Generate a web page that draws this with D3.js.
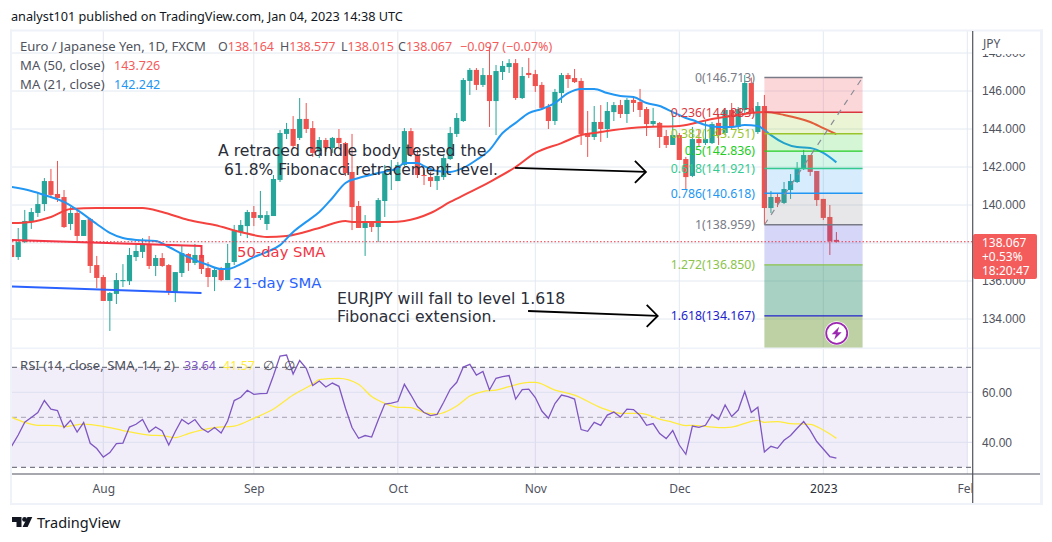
<!DOCTYPE html>
<html>
  <head>
    <meta charset="UTF-8" />
    <style>
      body {
        margin: 0;
        background: #fff;
      }
      svg {
        display: block;
      }
      text {
        font-family: "Noto Sans";
      }
      .axis text {
        font-family: "Liberation Sans";
      }
      .note {
        font-family: "DejaVu Sans";
      }
      .axis .domain,
      .axis line {
        display: none;
      }
    </style>
  </head>
  <body>
    <svg></svg>
    <script src="https://d3js.org/d3.v7.min.js"></script>
    <script>
      let width = 1052,
        height = 542;

      // Daily candles, one entry per session
      const opens = [137.90,137.26,138.05,139.11,139.58,140.05,141.26,140.58,140.42,139.00,139.58,138.37,139.26,136.84,136.21,134.95,135.32,135.99,135.99,137.26,137.53,137.95,136.79,137.21,136.84,135.37,136.42,137.42,136.95,137.37,136.68,136.21,136.63,136.05,137.00,138.58,138.89,139.63,139.32,139.00,139.42,141.32,143.74,144.00,143.53,144.53,144.05,142.84,143.42,143.00,143.53,143.26,141.74,139.95,138.79,139.11,138.84,140.21,141.79,141.26,142.11,143.89,142.63,141.58,141.47,141.26,141.47,142.42,143.74,144.42,146.53,147.11,146.32,146.84,145.47,147.00,147.26,147.47,145.63,146.95,146.89,146.32,145.16,144.42,145.89,146.84,146.68,146.53,143.79,143.58,144.37,144.00,144.89,145.26,144.79,145.53,145.42,145.05,144.26,144.32,143.63,143.16,143.68,142.42,141.53,143.47,143.26,143.26,144.32,143.79,145.00,144.11,145.00,146.42,143.84,145.21,139.84,140.42,140.11,140.79,141.21,141.89,142.63,141.79,140.32,139.37,138.164];
      const highs = [137.90,138.79,139.74,139.84,140.63,141.42,141.90,142.32,140.79,139.89,139.84,139.21,139.32,137.32,136.32,135.42,136.42,136.89,137.74,137.95,138.26,138.37,137.37,137.47,136.89,136.47,137.84,137.47,137.95,137.84,137.00,136.68,136.74,137.95,138.95,139.21,139.74,139.95,140.74,139.68,141.58,143.95,144.32,144.68,145.63,145.37,144.42,143.58,143.53,143.58,144.00,143.32,143.74,140.21,139.47,139.11,140.37,142.11,142.37,142.26,144.05,144.05,142.90,141.84,141.74,141.74,142.63,144.11,144.84,146.68,147.21,147.21,147.21,148.32,147.37,147.58,147.68,147.68,147.26,147.74,147.11,146.47,145.32,146.11,146.95,146.95,147.16,146.68,144.95,145.21,145.26,145.42,145.42,145.53,145.63,145.68,146.11,145.16,145.11,144.37,143.95,144.84,143.79,142.53,144.11,143.95,144.47,144.37,144.74,145.11,145.37,145.16,146.84,146.71,145.42,145.79,140.74,140.58,141.21,141.63,142.26,142.90,142.63,141.79,140.32,140.00,138.577];
      const lows = [137.26,137.11,138.00,138.74,139.37,139.68,140.37,140.16,138.79,138.68,138.10,138.37,136.42,135.63,134.95,133.37,134.79,135.68,135.79,137.05,137.21,136.63,136.26,136.74,135.26,134.89,136.21,136.53,136.84,136.37,135.68,135.47,135.99,136.05,136.84,138.37,138.26,138.89,139.21,138.68,139.42,141.21,143.47,143.00,143.42,143.79,142.53,142.47,142.79,142.74,143.00,141.53,138.68,138.79,137.32,138.58,138.05,139.37,140.79,141.26,142.05,142.53,141.42,141.05,140.95,140.79,141.32,142.37,143.58,144.37,145.79,146.05,146.21,144.11,143.68,146.58,146.95,145.53,145.58,146.68,145.95,145.05,144.00,144.21,145.37,146.16,146.42,143.16,142.53,143.42,143.32,143.53,144.42,144.58,144.32,144.90,144.63,143.63,144.11,143.00,143.00,143.16,142.37,140.79,141.47,143.05,143.16,143.21,143.16,143.68,144.00,144.00,144.84,144.84,143.74,138.96,139.58,139.89,140.05,140.32,141.16,141.84,141.53,139.95,139.21,137.37,138.015];
      const closes = [137.26,138.05,139.16,139.63,140.05,141.26,140.53,140.37,138.84,139.58,138.37,139.21,136.79,136.16,134.95,135.37,136.05,136.05,137.37,137.58,137.95,136.79,137.21,136.79,135.42,136.47,137.47,136.95,137.37,136.63,136.21,136.58,136.05,136.95,138.63,138.95,139.63,139.32,139.47,139.47,141.37,143.79,144.00,143.11,144.53,144.00,142.74,143.42,143.00,143.53,143.26,141.68,139.89,138.79,139.05,138.84,140.26,141.68,141.84,142.11,143.89,142.63,141.58,141.53,141.26,141.53,142.47,143.79,144.58,146.58,147.11,146.32,146.84,145.47,147.05,147.32,147.47,145.63,146.79,146.84,146.26,145.11,144.42,145.95,146.84,146.63,146.47,143.74,143.58,144.37,144.00,144.95,145.26,144.79,145.53,145.37,145.00,144.26,144.42,143.58,143.16,143.68,142.37,141.47,143.47,143.26,143.47,144.26,143.68,145.00,144.11,145.05,146.42,144.89,145.21,139.84,140.42,140.11,140.84,141.26,141.95,142.63,141.74,140.26,139.32,138.10,138.067];

      // Moving averages, read at the candle numbers listed beside them
      const ma21Index = [0,3,5,8,10,13,15,17,19,22,24,27,30,32,33,35,37,39,41,43,45,47,49,51,53,56,59,60,62,63,65,67,69,71,73,75,77,79,81,83,85,87,89,91,93,95,97,99,101,103,104,106,108,110,112,114,115,116,118,120,122,124,126];
      const ma21 = [140.95,140.74,140.53,140.16,139.74,139.00,138.53,138.26,138.16,138.11,137.79,137.26,136.84,136.63,136.63,136.89,137.26,137.53,137.89,138.58,139.11,139.63,140.37,141.16,141.42,141.68,141.95,142.21,142.21,142.05,141.79,141.74,141.95,142.37,142.89,143.79,144.32,144.84,145.05,145.37,145.89,146.11,146.11,145.89,145.74,145.68,145.37,145.21,144.89,144.58,144.47,144.21,144.11,144.11,144.21,144.16,143.95,143.68,143.26,143.05,143.00,142.74,142.242];
      const ma50Index = [0,3,6,9,13,20,23,27,31,35,39,42,47,51,52,58,60,64,67,70,73,77,80,84,87,90,92,97,102,107,111,115,118,122,124,126];
      const ma50 = [139.05,139.11,139.37,139.79,139.84,139.84,139.63,139.21,138.95,138.58,138.32,138.37,138.79,139.16,139.11,139.11,139.16,139.58,140.16,140.68,141.21,142.00,142.74,143.26,143.68,143.84,143.95,144.11,144.16,144.53,144.74,144.89,144.74,144.37,144.05,143.726];

      // RSI per candle and its moving average
      const rsi = [38.5,42.9,48,49.9,51.9,56.7,53.3,52.7,45.9,48.8,44.1,47.9,39.6,37.5,34.1,35.9,39.5,39.7,46.1,47.2,49.1,44.1,46.1,44.5,38.9,44.3,49.1,47.3,49.1,45.6,44,45.9,43.7,48.5,56.7,58,60.8,59.2,59.5,59.6,66.7,74.5,74.9,67.3,72.7,69.6,62.7,64.5,62.1,63.7,62.4,53.6,45.9,41.6,42.7,42.1,48.9,55.3,55.7,56.3,63.2,58.9,54.3,51.9,50.7,51.2,56,61.2,64,70.1,71.2,66.9,68.3,60.9,65.6,66.3,66.7,57.3,61.1,61.3,57.9,52.5,49.6,55.5,58.9,58.3,57.3,45.1,44.4,48,46.8,50.9,52.1,50.1,53.3,53.1,50.7,46.8,47.5,43.5,41.5,44.7,38.9,35.2,46.5,46,46.8,51.1,49.1,54.9,50.3,52.9,60.3,52,54,36.1,38.4,37.6,40.8,42.7,45.6,48.3,44.8,40.3,37.3,34.3,33.64];
      const rsiMaIndex = [0,2,4,7,8,11,14,17,21,23,25,27,29,31,34,37,40,43,46,47,50,53,55,57,59,61,63,65,68,70,72,74,76,79,80,83,86,90,93,96,99,101,103,104,108,110,114,115,117,119,122,124,126];
      const rsiMa = [50,48,46.8,46.7,46.3,47.3,46.4,44.7,42.9,42.7,41.9,43.5,44.9,45.9,46.5,49.6,53.3,58.9,63.3,65.1,65.6,63.2,58.3,55.6,54,53.9,51.9,51.3,54.5,58.5,60.3,60.9,62.3,64,64,60.9,58.9,53.9,51.6,51.6,49.3,48,46.7,46.8,45.9,46.1,48.8,48,48.3,47.5,47.2,44.9,41.57];

      // Axes
      const priceTicks = [148, 146, 144, 142, 140, 138, 136, 134];
      const rsiTicks = [60, 40];
      const monthIndex = [14, 37, 59, 80, 102, 124, 146];
      const monthLabels = ["Aug", "Sep", "Oct", "Nov", "Dec", "2023", "Feb"];

      // Fibonacci tool
      const fibLevels = ["0", "0.236", "0.382", "0.5", "0.618", "0.786", "1", "1.272", "1.618"];
      const fibPrices = [146.713, 144.883, 143.751, 142.836, 141.921, 140.618, 138.959, 136.85, 134.167];
      const fibColors = ["#787b86", "#d9363e", "#9ac42c", "#22cc22", "#35c992", "#2196f3", "#787b86", "#8bc34a", "#2222cc"];
      const fibFills = ["rgba(242,54,69,0.2)", "rgba(155,200,40,0.2)", "rgba(40,210,40,0.2)", "rgba(50,210,150,0.2)", "rgba(33,150,243,0.18)", "rgba(120,123,134,0.18)", "rgba(50,50,220,0.2)", "rgba(0,120,80,0.34)", "rgba(90,140,30,0.4)"];

      let svg = d3.select("svg").attr("width", width).attr("height", height);

      //Scales
      let x = d3.scaleLinear().domain([0, 146]).range([11.66, 967.3]);
      let y = d3.scaleLinear().domain([146, 134]).range([91, 319]);
      let yRsi = d3.scaleLinear().domain([70, 30]).range([367.3, 467.3]);

      let defs = svg.append("defs");
      defs
        .append("clipPath")
        .attr("id", "mainClip")
        .append("rect")
        .attr("x", 12)
        .attr("y", 31)
        .attr("width", 960.5)
        .attr("height", 317);
      defs
        .append("clipPath")
        .attr("id", "timeClip")
        .append("rect")
        .attr("x", 12)
        .attr("y", 475)
        .attr("width", 960.5)
        .attr("height", 29);

      //Frame and grid
      let grid = svg.append("g");
      monthIndex.forEach((i) => {
        grid
          .append("line")
          .attr("x1", x(i))
          .attr("x2", x(i))
          .attr("y1", 31)
          .attr("y2", 474)
          .attr("stroke", "#e3e9f0");
      });
      priceTicks.forEach((p) => {
        grid
          .append("line")
          .attr("x1", 12)
          .attr("x2", 972)
          .attr("y1", y(p))
          .attr("y2", y(p))
          .attr("stroke", "#e3e9f0");
      });

      //RSI band
      grid
        .append("rect")
        .attr("x", 12)
        .attr("width", x(146) - 12)
        .attr("y", yRsi(70))
        .attr("height", yRsi(30) - yRsi(70))
        .attr("fill", "rgba(126,87,194,0.1)");
      rsiTicks.forEach((v) => {
        grid
          .append("line")
          .attr("x1", 12)
          .attr("x2", 972)
          .attr("y1", yRsi(v))
          .attr("y2", yRsi(v))
          .attr("stroke", "#dcdff0");
      });
      [70, 50, 30].forEach((v) => {
        grid
          .append("line")
          .attr("x1", 12)
          .attr("x2", 972)
          .attr("y1", yRsi(v))
          .attr("y2", yRsi(v))
          .attr("stroke", v == 50 ? "#b4b2c0" : "#787b86")
          .attr("stroke-width", 1.2)
          .attr("stroke-dasharray", "5 4");
      });

      //Candles
      let chart = svg.append("g").attr("clip-path", "url(#mainClip)");
      let candles = chart
        .append("g")
        .selectAll("g")
        .data(d3.range(opens.length))
        .enter()
        .append("g")
        .attr("fill", (i) => (closes[i] >= opens[i] ? "#26a69a" : "#ef5350"));
      candles
        .append("rect")
        .attr("x", (i) => x(i) - 0.5)
        .attr("width", 1)
        .attr("y", (i) => y(highs[i]))
        .attr("height", (i) => y(lows[i]) - y(highs[i]));
      candles
        .append("rect")
        .attr("x", (i) => x(i) - 2.6)
        .attr("width", 5.2)
        .attr("y", (i) => y(Math.max(opens[i], closes[i])))
        .attr("height", (i) => Math.max(1, Math.abs(y(opens[i]) - y(closes[i]))));

      //Moving averages
      let maLine = (idx, scale) =>
        d3
          .line()
          .x((v, k) => x(idx[k]))
          .y((v) => scale(v))
          .curve(d3.curveMonotoneX);
      chart
        .append("path")
        .attr("d", maLine(ma50Index, y)(ma50))
        .attr("fill", "none")
        .attr("stroke", "#f4433f")
        .attr("stroke-width", 2);
      chart
        .append("path")
        .attr("d", maLine(ma21Index, y)(ma21))
        .attr("fill", "none")
        .attr("stroke", "#2196f3")
        .attr("stroke-width", 2);

      //Hand drawn trend lines
      const redTrend = [[0, 138.16], [29, 137.84], [29, 137.21]];
      const blueTrend = [[0, 135.71], [29, 135.37]];
      let trend = d3
        .line()
        .x((d) => x(d[0]))
        .y((d) => y(d[1]));
      chart
        .append("path")
        .attr("d", trend(redTrend))
        .attr("fill", "none")
        .attr("stroke", "#f23645")
        .attr("stroke-width", 2);
      chart
        .append("path")
        .attr("d", trend(blueTrend))
        .attr("fill", "none")
        .attr("stroke", "#2962ff")
        .attr("stroke-width", 2);

      //Fibonacci bands, levels and labels
      const fibStart = 115,
        fibEnd = 130;
      let fib = chart.append("g");
      fibPrices.forEach((p, k) => {
        let bottom = k < fibPrices.length - 1 ? y(fibPrices[k + 1]) : 348;
        fib
          .append("rect")
          .attr("x", x(fibStart))
          .attr("width", x(fibEnd) - x(fibStart))
          .attr("y", y(p))
          .attr("height", bottom - y(p))
          .attr("fill", fibFills[k]);
      });
      fibPrices.forEach((p, k) => {
        fib
          .append("line")
          .attr("x1", x(fibStart))
          .attr("x2", x(fibEnd))
          .attr("y1", y(p))
          .attr("y2", y(p))
          .attr("stroke", fibColors[k])
          .attr("stroke-width", 1.4);
        fib
          .append("text")
          .attr("x", 755)
          .attr("y", y(p))
          .attr("dy", "0.35em")
          .attr("text-anchor", "end")
          .attr("font-size", 12.3)
          .attr("fill", fibColors[k])
          .text(fibLevels[k] + "(" + p.toFixed(3) + ")");
      });
      fib
        .append("line")
        .attr("x1", x(fibStart))
        .attr("y1", y(fibPrices[6]))
        .attr("x2", x(fibEnd))
        .attr("y2", y(fibPrices[0]))
        .attr("stroke", "#8a8d96")
        .attr("stroke-width", 1.2)
        .attr("stroke-dasharray", "6 6");

      //Last price line
      const lastPrice = closes[closes.length - 1];
      chart
        .append("line")
        .attr("x1", 12)
        .attr("x2", 972)
        .attr("y1", y(lastPrice))
        .attr("y2", y(lastPrice))
        .attr("stroke", "#f23645")
        .attr("stroke-dasharray", "1.5 2");

      //RSI
      svg
        .append("path")
        .attr("d", maLine(rsiMaIndex, yRsi)(rsiMa))
        .attr("fill", "none")
        .attr("stroke", "#ffeb3b")
        .attr("stroke-width", 1.3);
      svg
        .append("path")
        .attr(
          "d",
          d3
            .line()
            .x((v, k) => x(k))
            .y((v) => yRsi(v))(rsi)
        )
        .attr("fill", "none")
        .attr("stroke", "#7e57c2")
        .attr("stroke-width", 1.3);

      //Annotations
      let note = (txt, nx, ny, color, size) =>
        svg
          .append("text")
          .attr("x", nx)
          .attr("y", ny)
          .attr("fill", color)
          .attr("font-size", size)
          .text(txt);
      let bigNote = (txt, nx, ny, color, size) =>
        note(txt, nx, ny, color, size).attr("class", "note");
      bigNote("A retraced candle body tested the", 218, 156, "#2a2e39", 15.7);
      bigNote("61.8% Fibonacci retracement level.", 224, 175, "#2a2e39", 15.5);
      bigNote("EURJPY will fall to level 1.618", 337, 304, "#2a2e39", 15.7);
      bigNote("Fibonacci extension.", 337, 322, "#2a2e39", 15.7);
      bigNote("50-day SMA", 237, 257, "#f23645", 14.8);
      bigNote("21-day SMA", 233, 288, "#2962ff", 14.8);

      //Arrows, with their ends in index and price
      const arrowOne = [[76.9, 141.95], [96.9, 141.74]];
      const arrowTwo = [[78.9, 134.42], [98.7, 134.16]];
      [arrowOne, arrowTwo].forEach((a) => {
        svg
          .append("path")
          .attr("d", trend(a))
          .attr("fill", "none")
          .attr("stroke", "#000")
          .attr("stroke-width", 1.8);
        let tipX = x(a[1][0]),
          tipY = y(a[1][1]);
        svg
          .append("path")
          .attr("d", `M${tipX - 11},${tipY - 11}L${tipX},${tipY}L${tipX - 11},${tipY + 11}`)
          .attr("fill", "none")
          .attr("stroke", "#000")
          .attr("stroke-width", 1.8);
      });

      //Lightning badge
      let badge = svg.append("g").attr("transform", "translate(836.7,333.3)");
      badge.append("circle").attr("r", 12).attr("fill", "#fff");
      badge
        .append("circle")
        .attr("r", 10.5)
        .attr("fill", "#fff")
        .attr("stroke", "#9c27b0")
        .attr("stroke-width", 1.8);
      badge
        .append("path")
        .attr("d", "M2.5,-6.5L-5,1H-0.8L-2.5,6.5L5,-1H0.8Z")
        .attr("fill", "#9c27b0");

      //Legend
      let legendGray = "#50535e",
        legendRed = "#f45b5b",
        labelSize = 13.1,
        valueSize = 12.5;
      note("analyst101 published on TradingView.com, Jan 04, 2023 14:38 UTC", 11, 21, "#131722", 12.7);
      note("Euro / Japanese Yen, 1D, FXCM", 20, 51, legendGray, labelSize);
      [["O", 218], ["H", 280], ["L", 341], ["C", 398]].forEach((d, k) => {
        let vals = [opens, highs, lows, closes][k];
        let t = note(d[0], d[1], 51, legendGray, valueSize);
        t.append("tspan")
          .attr("fill", legendRed)
          .text(vals[vals.length - 1].toFixed(3));
      });
      note("\u22120.097 (\u22120.07%)", 460, 51, legendRed, valueSize);
      note("MA (50, close)", 20, 70, legendGray, labelSize);
      note(ma50[ma50.length - 1].toFixed(3), 114, 70, legendRed, valueSize);
      note("MA (21, close)", 20, 89, legendGray, labelSize);
      note(ma21[ma21.length - 1].toFixed(3), 114, 89, "#2196f3", valueSize);
      note("RSI (14, close, SMA, 14, 2)", 20, 370, legendGray, labelSize);
      note(rsi[rsi.length - 1].toFixed(2), 184, 370, "#7e57c2", valueSize);
      note(rsiMa[rsiMa.length - 1].toFixed(2), 223, 370, "#ffeb3b", valueSize);
      note("\u2205", 263, 370, legendGray, valueSize);
      note("\u2205", 284, 370, legendGray, valueSize);

      //Frame on top of the panes
      let frame = svg.append("g");
      [
        [10, 29.5, 1033, 2],
        [10, 29.5, 2, 475],
        [1040, 29.5, 3, 475],
        [10, 503, 1033, 2],
        [12, 347.5, 1028, 1.6],
      ].forEach((r) => {
        frame
          .append("rect")
          .attr("x", r[0])
          .attr("y", r[1])
          .attr("width", r[2])
          .attr("height", r[3])
          .attr("fill", "#eff2f8");
      });
      frame
        .append("line")
        .attr("x1", 972.7)
        .attr("x2", 972.7)
        .attr("y1", 31)
        .attr("y2", 503)
        .attr("stroke", "#50535e")
        .attr("stroke-width", 1.2);
      frame
        .append("line")
        .attr("x1", 12)
        .attr("x2", 1040)
        .attr("y1", 474)
        .attr("y2", 474)
        .attr("stroke", "#50535e")
        .attr("stroke-width", 1.2);

      //Price axis, 138 sits under the last price box so it gets no label
      let priceAxis = svg
        .append("g")
        .attr("class", "axis")
        .attr("transform", "translate(973,0)")
        .call(
          d3
            .axisRight(y)
            .tickValues(priceTicks.filter((p) => p != 138))
            .tickFormat(d3.format(".3f"))
            .tickSize(0)
            .tickPadding(9)
        );
      priceAxis.selectAll("text").attr("font-size", 12).attr("fill", "#50535e");

      let rsiAxis = svg
        .append("g")
        .attr("class", "axis")
        .attr("transform", "translate(973,0)")
        .call(
          d3
            .axisRight(yRsi)
            .tickValues(rsiTicks)
            .tickFormat(d3.format(".2f"))
            .tickSize(0)
            .tickPadding(9)
        );
      rsiAxis.selectAll("text").attr("font-size", 12).attr("fill", "#50535e");

      svg
        .append("rect")
        .attr("x", 974)
        .attr("y", 32)
        .attr("width", 65)
        .attr("height", 22)
        .attr("fill", "#fff");
      note("JPY", 983, 48, "#50535e", 12);

      let timeAxis = svg
        .append("g")
        .attr("class", "axis")
        .attr("clip-path", "url(#timeClip)")
        .append("g")
        .attr("transform", "translate(0,474)")
        .call(
          d3
            .axisBottom(x)
            .tickValues(monthIndex)
            .tickFormat((d, k) => monthLabels[k])
            .tickSize(0)
            .tickPadding(10)
        );
      timeAxis
        .selectAll("text")
        .style("font-family", "Noto Sans")
        .attr("font-size", 12)
        .attr("fill", (d, k) => (monthLabels[k] == "2023" ? "#2a2e39" : "#50535e"));

      //Last price box
      let box = svg.append("g");
      box
        .append("rect")
        .attr("x", 973)
        .attr("y", 234)
        .attr("width", 64)
        .attr("height", 45)
        .attr("rx", 2)
        .attr("fill", "#f45b5b");
      ["138.067", "+0.53%", "18:20:47"].forEach((t, k) => {
        box
          .append("text")
          .attr("x", 982)
          .attr("y", 246.5 + k * 14.2)
          .attr("font-size", 12)
          .attr("fill", "#fff")
          .text(t);
      });

      //Footer logo
      let logo = svg.append("g").attr("fill", "#131722");
      logo.append("path").attr("d", "M12,517H21.5V527H16.5V522H12Z");
      logo.append("circle").attr("cx", 24.6).attr("cy", 519.4).attr("r", 2.4);
      logo.append("path").attr("d", "M27.5,517H32.3L27.6,527H22.6Z");
      note("TradingView", 37, 528, "#131722", 14.5);
    </script>
  </body>
</html>
